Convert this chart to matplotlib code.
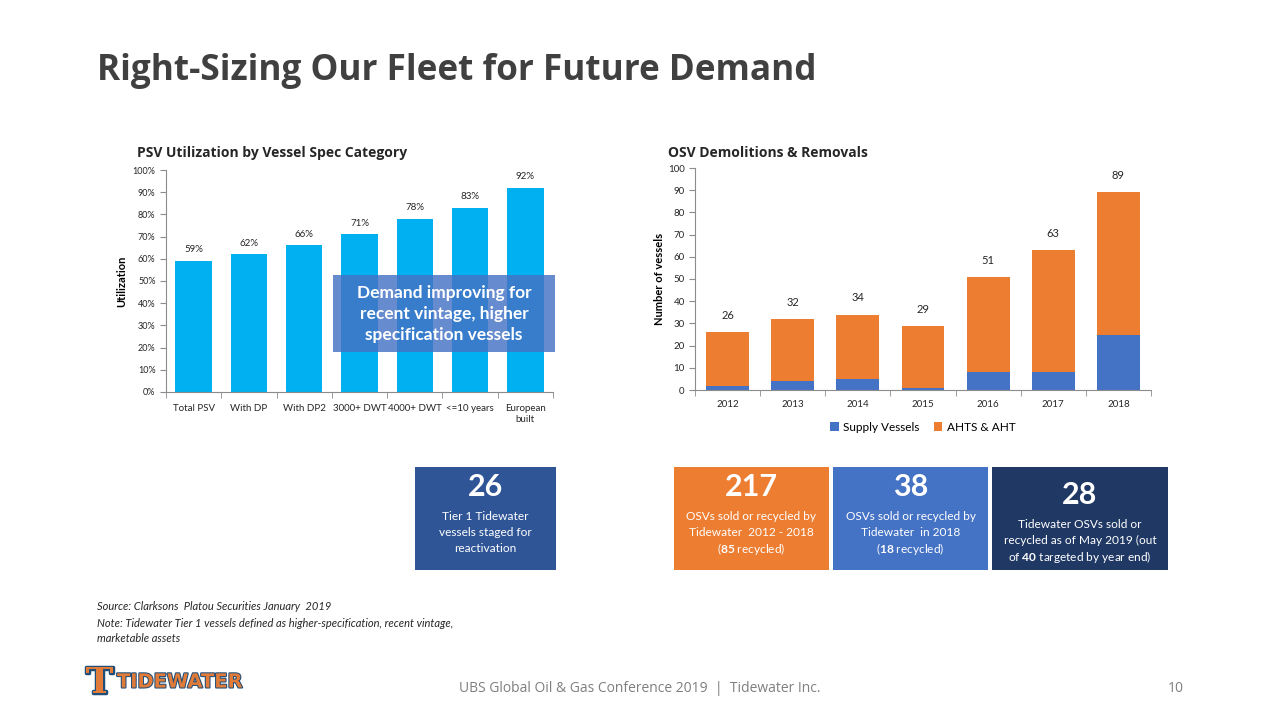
import matplotlib.pyplot as plt
import matplotlib.patheffects as pe
import numpy as np
from matplotlib.patches import Rectangle

# data
psv_cats = ["Total PSV", "With DP", "With DP2", "3000+ DWT", "4000+ DWT", "<=10 years", "European\nbuilt"]
psv_util = [59, 62, 66, 71, 78, 83, 92]

years = ["2012", "2013", "2014", "2015", "2016", "2017", "2018"]
totals = [26, 32, 34, 29, 51, 63, 89]
supply = [2, 4, 5, 1, 8, 8, 25]
ahts = [t - s for t, s in zip(totals, supply)]

W, H = 1280, 720
FONT = ["Lato", "DejaVu Sans"]
plt.rcParams['font.family'] = FONT
plt.rcParams['mathtext.fontset'] = 'custom'
plt.rcParams['mathtext.rm'] = 'Lato'
plt.rcParams['mathtext.bf'] = 'Lato:bold'


def box(x0, y0, x1, y1):
    # pixel box -> figure fraction rect
    return [x0 / W, 1 - y1 / H, (x1 - x0) / W, (y1 - y0) / H]


def style_axes(ax, n, pad):
    for s in ["top", "right"]:
        ax.spines[s].set_visible(False)
    for s in ["left", "bottom"]:
        ax.spines[s].set_color("#8c8c8c")
        ax.spines[s].set_linewidth(0.8)
    ax.set_xlim(-0.5, n - 0.5)
    ax.set_xticks(np.arange(n))
    ax.set_xticks(np.arange(n + 1) - 0.5, minor=True)
    ax.tick_params(axis="x", which="major", length=0, pad=pad)
    ax.tick_params(axis="x", which="minor", length=4, color="#8c8c8c")
    ax.tick_params(axis="y", length=4, color="#8c8c8c", direction="out")


fig = plt.figure(figsize=(12.8, 7.2), dpi=100)
fig.patch.set_facecolor("white")

fig.text(97 / W, 1 - 71 / H, "Right-Sizing Our Fleet for Future Demand", fontsize=25.3,
         fontweight="bold", color="#404040", family=["Open Sans", "DejaVu Sans"], va="center")

# left chart
ax1 = fig.add_axes(box(166, 170, 553, 392))
x = np.arange(len(psv_cats))
ax1.bar(x, psv_util, width=0.66, color="#00B0F0")
for xi, v in zip(x, psv_util):
    ax1.text(xi, v + 3, f"{v}%", ha="center", va="bottom", fontsize=7, color="#262626")
ax1.set_ylim(0, 100)
ax1.set_yticks(range(0, 101, 10))
ax1.set_yticklabels([f"{v}%" for v in range(0, 101, 10)], fontsize=6.5, color="#262626")
style_axes(ax1, len(psv_cats), 9)
ax1.set_xticklabels(psv_cats, fontsize=7, color="#262626")
ax1.set_ylabel("Utilization", fontsize=8, fontweight="bold", labelpad=4)
fig.text(137 / W, 1 - 153 / H, "PSV Utilization by Vessel Spec Category", fontsize=10,
         fontweight="bold", color="#262626", va="center", family=["Open Sans", "DejaVu Sans"])

# overlay callout
fig.patches.append(Rectangle((333 / W, 1 - 352 / H), 222 / W, 77 / H, transform=fig.transFigure,
                             facecolor="#4472C4", alpha=0.82, edgecolor="none", zorder=5))
fig.text(444 / W, 1 - 314 / H, "Demand improving for\nrecent vintage, higher\nspecification vessels",
         fontsize=12.5, fontweight="bold", color="white", ha="center", va="center",
         linespacing=1.4, zorder=6)

# right chart
ax2 = fig.add_axes(box(695, 168, 1151, 390))
xr = np.arange(len(years))
ax2.bar(xr, supply, width=0.66, color="#4472C4", label="Supply Vessels")
ax2.bar(xr, ahts, width=0.66, bottom=supply, color="#ED7D31", label="AHTS & AHT")
for xi, t in zip(xr, totals):
    ax2.text(xi, t + 5, str(t), ha="center", va="bottom", fontsize=8, color="#262626")
ax2.set_ylim(0, 100)
ax2.set_yticks(range(0, 101, 10))
ax2.tick_params(axis="y", labelsize=7, labelcolor="#262626")
style_axes(ax2, len(years), 7)
ax2.set_xticklabels(years, fontsize=7, color="#262626")
ax2.set_ylabel("Number of vessels", fontsize=8, fontweight="bold", labelpad=2)
ax2.legend(loc="upper center", bbox_to_anchor=(0.5, -0.095), ncol=2, frameon=False,
           fontsize=8.5, handlelength=0.7, handleheight=0.7, columnspacing=1.2, handletextpad=0.4)
fig.text(668 / W, 1 - 153 / H, "OSV Demolitions & Removals", fontsize=10,
         fontweight="bold", color="#262626", va="center", family=["Open Sans", "DejaVu Sans"])

# stat boxes
stats = [
    (415, 556, "#2F5597", "26", ["Tier 1 Tidewater", "vessels staged for", "reactivation"], 487),
    (674, 829, "#ED7D31", "217", ["OSVs sold or recycled by", "Tidewater  2012 - 2018", r"(85 recycled)"], 487),
    (833, 988, "#4472C4", "38", ["OSVs sold or recycled by", "Tidewater  in 2018", r"($\mathbf{18}$ recycled)"], 487),
    (992, 1168, "#203864", "28", ["Tidewater OSVs sold or", "recycled as of May 2019 (out",
                                  r"of $\mathbf{40}$ targeted by year end)"], 495),
]
stats[1][4][2] = r"($\mathbf{85}$ recycled)"
for x0, x1, col, big, lines, ybig in stats:
    fig.patches.append(Rectangle((x0 / W, 1 - 570 / H), (x1 - x0) / W, 103 / H,
                                 transform=fig.transFigure, facecolor=col, edgecolor="none"))
    cx = (x0 + x1) / 2 / W
    fig.text(cx, 1 - ybig / H, big, fontsize=22, fontweight="bold", color="white",
             ha="center", va="center")
    for i, ln in enumerate(lines):
        fig.text(cx, 1 - (ybig + 29 + i * 16.5) / H, ln, fontsize=8.6, color="white",
                 ha="center", va="center")

# footnotes
fig.text(97 / W, 1 - 607 / H, "Source: Clarksons  Platou Securities January  2019", fontsize=8,
         style="italic", color="#262626", va="center")
fig.text(97 / W, 1 - 631 / H, "Note: Tidewater Tier 1 vessels defined as higher-specification, recent vintage,\nmarketable assets",
         fontsize=8, style="italic", color="#262626", va="center", linespacing=1.55)

# logo
outline = [pe.withStroke(linewidth=2.5, foreground="#1F4E79")]
fig.text(86 / W, 1 - 683 / H, "T", fontsize=26, fontweight="bold", color="#E07B39",
         va="center", family=["DejaVu Serif"], path_effects=outline)
fig.text(117 / W, 1 - 682 / H, "TIDEWATER", fontsize=14, fontweight="heavy", color="#E07B39",
         va="center", family=["DejaVu Sans"], path_effects=[pe.withStroke(linewidth=1.5, foreground="#1F4E79")])

fig.text(640 / W, 1 - 688 / H, "UBS Global Oil & Gas Conference 2019  |  Tidewater Inc.", fontsize=10,
         color="#7f7f7f", ha="center", va="center", family=["Open Sans", "DejaVu Sans"])
fig.text(1176 / W, 1 - 688 / H, "10", fontsize=10, color="#7f7f7f", ha="center", va="center",
         family=["Open Sans", "DejaVu Sans"])

fig.savefig("out.png", dpi=100)
